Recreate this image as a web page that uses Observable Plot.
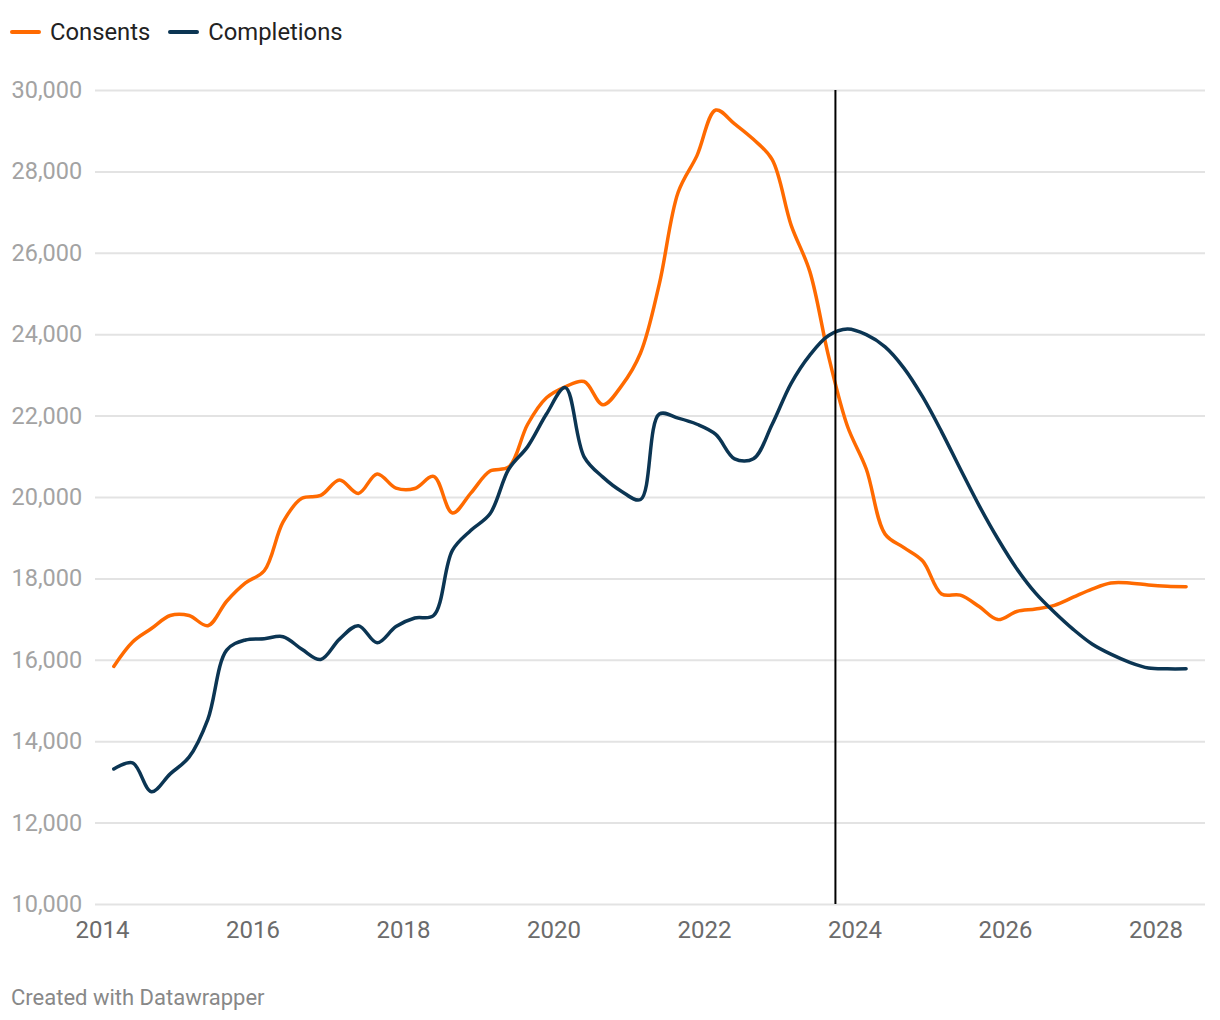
<!DOCTYPE html>
<html>
<head>
<meta charset="utf-8">
<script src="https://cdn.jsdelivr.net/npm/d3@7"></script>
<script src="https://cdn.jsdelivr.net/npm/@observablehq/plot@0.6"></script>
<style>
  html, body { margin: 0; padding: 0; background: #fff; }
  body { width: 1220px; height: 1020px; position: relative; font-family: Roboto, "Noto Sans", sans-serif; overflow: hidden; }
  #legend { position: absolute; left: 10px; top: 18px; height: 28px; line-height: 28px; font-size: 23.8px; color: #222; display: flex; align-items: center; }
  .item { display: flex; align-items: center; margin-right: 18px; }
  .sw { width: 31px; height: 4px; border-radius: 2px; margin-right: 9px; }
  #chart { position: absolute; left: 0; top: 60px; }
  #footer { position: absolute; left: 11px; top: 986px; font-size: 22px; line-height: 24px; color: #888; }
</style>
</head>
<body>
<div id="legend"></div>
<div id="chart"></div>
<div id="footer">Created with Datawrapper</div>
<script>
// Quarterly periods
const quarters = [
  "2014Q1","2014Q2","2014Q3","2014Q4","2015Q1","2015Q2","2015Q3","2015Q4",
  "2016Q1","2016Q2","2016Q3","2016Q4","2017Q1","2017Q2","2017Q3","2017Q4",
  "2018Q1","2018Q2","2018Q3","2018Q4","2019Q1","2019Q2","2019Q3","2019Q4",
  "2020Q1","2020Q2","2020Q3","2020Q4","2021Q1","2021Q2","2021Q3","2021Q4",
  "2022Q1","2022Q2","2022Q3","2022Q4","2023Q1","2023Q2","2023Q3","2023Q4",
  "2024Q1","2024Q2","2024Q3","2024Q4","2025Q1","2025Q2","2025Q3","2025Q4",
  "2026Q1","2026Q2","2026Q3","2026Q4","2027Q1","2027Q2","2027Q3","2027Q4",
  "2028Q1","2028Q2"
];
const consents = [
  15850,16450,16780,17100,17100,16850,17450,17900,
  18200,19400,19980,20050,20430,20100,20580,20230,
  20220,20520,19620,20120,20650,20750,21800,22450,
  22720,22850,22280,22750,23550,25250,27500,28400,
  29520,29180,28800,28300,26700,25550,23460,21750,
  20700,19100,18770,18440,17630,17600,17320,17000,
  17200,17260,17350,17550,17750,17900,17900,17850,
  17820,17810
];
const completions = [
  13330,13480,12770,13210,13620,14550,16250,16500,
  16530,16580,16270,16020,16520,16850,16430,16830,
  17040,17100,18700,19200,19600,20700,21250,22050,
  22700,21000,20500,20150,19950,22050,21950,21800,
  21550,20950,20950,21800,22800,23500,23980,24140,
  24000,23700,23180,22470,21620,20700,19800,18980,
  18250,17650,17180,16760,16400,16150,15950,15810,
  15790,15790
];
const seriesNames = ["Consents", "Completions"];
const seriesColors = ["#ff6a00", "#0b3553"];
const yTicks = [10000,12000,14000,16000,18000,20000,22000,24000,26000,28000,30000];
const xTicks = [2014,2016,2018,2020,2022,2024,2026,2028];
const markerYear = [2023.74];

// quarter label -> decimal year position
const qToYear = q => +q.slice(0,4) + (+q.slice(5) - 1) / 4 + 0.15;

const data = [];
quarters.forEach((q, i) => {
  data.push({t: qToYear(q), v: consents[i], s: seriesNames[0]});
  data.push({t: qToYear(q), v: completions[i], s: seriesNames[1]});
});

// legend
const legend = document.getElementById("legend");
seriesNames.forEach((n, i) => {
  const it = document.createElement("div");
  it.className = "item";
  it.innerHTML = `<span class="sw" style="background:${seriesColors[i]}"></span><span>${n}</span>`;
  legend.appendChild(it);
});

const chart = Plot.plot({
  width: 1220,
  height: 900,
  marginTop: 30,
  marginBottom: 56,
  marginLeft: 95,
  marginRight: 15,
  style: { fontFamily: "Roboto, 'Noto Sans', sans-serif", fontSize: "23px", background: "#fff" },
  x: { domain: [2013.907, 2028.658] },
  y: { domain: [10000, 30000] },
  color: { domain: seriesNames, range: seriesColors },
  marks: [
    Plot.ruleY(yTicks, { stroke: "#e3e3e3", strokeWidth: 2 }),
    Plot.axisY({ ticks: yTicks, tickSize: 0, tickPadding: 0, textAnchor: "start", dx: -84, tickFormat: d3.format(","), color: "#a3a3a3", fontSize: 23.5, label: null }),
    Plot.axisX({ ticks: xTicks, tickSize: 0, tickPadding: 16, tickFormat: d => String(d), color: "#6b6b6b", fontSize: 24, label: null }),
    Plot.line(data, { x: "t", y: "v", z: "s", stroke: "s", strokeWidth: 3.5, curve: "catmull-rom", strokeLinejoin: "round", strokeLinecap: "round" }),
    Plot.ruleX(markerYear, { stroke: "#000", strokeWidth: 2 })
  ]
});
document.getElementById("chart").appendChild(chart);
</script>
</body>
</html>
